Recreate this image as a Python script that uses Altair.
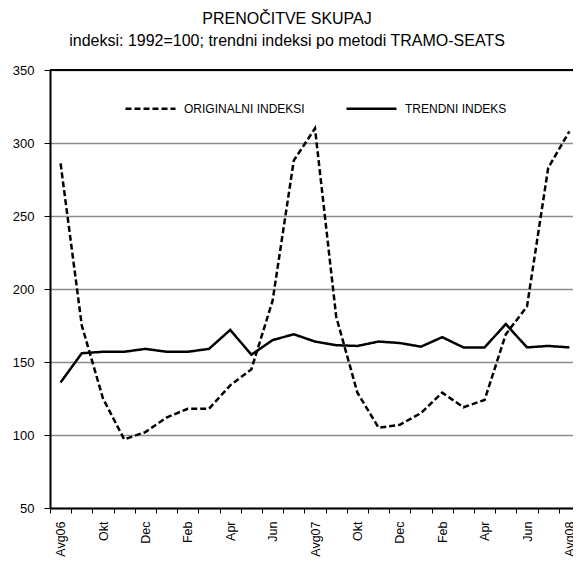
import json
import pandas as pd
import altair as alt

# ---- data ----
months = [
    "2006-08", "2006-09", "2006-10", "2006-11", "2006-12",
    "2007-01", "2007-02", "2007-03", "2007-04", "2007-05", "2007-06", "2007-07",
    "2007-08", "2007-09", "2007-10", "2007-11", "2007-12",
    "2008-01", "2008-02", "2008-03", "2008-04", "2008-05", "2008-06", "2008-07",
    "2008-08",
]
tick_labels = [
    "Avg06", "", "Okt", "", "Dec", "", "Feb", "", "Apr", "", "Jun", "",
    "Avg07", "", "Okt", "", "Dec", "", "Feb", "", "Apr", "", "Jun", "",
    "Avg08",
]
original = [286, 175, 125, 97, 102, 112, 118, 118, 134, 145, 192, 288,
            310, 181, 129, 105, 107, 115, 129, 119, 124, 169, 188, 283, 308]
trend = [136, 156, 157, 157, 159, 157, 157, 159, 172, 155, 165, 169,
         164, 161.5, 161, 164, 163, 160.5, 167, 160, 160, 176, 160, 161, 160]
series_names = ["ORIGINALNI INDEKSI", "TRENDNI INDEKS"]
title_lines = ["PRENOČITVE SKUPAJ",
               "indeksi: 1992=100; trendni indeksi po metodi TRAMO-SEATS"]
y_ticks = [50, 100, 150, 200, 250, 300, 350]
top_border = [350]

df = pd.DataFrame({
    "month": months * 2,
    "series": [series_names[0]] * len(months) + [series_names[1]] * len(months),
    "value": original + trend,
})
border_df = pd.DataFrame({"v": top_border})

FONT = "Liberation Sans"
label_map = json.dumps(dict(zip(months, tick_labels)), ensure_ascii=False)

y_scale = alt.Scale(domain=[50, 350], nice=False, zero=False)

lines = alt.Chart(df).mark_line(strokeWidth=2.5, color="black").encode(
    x=alt.X(
        "month:O",
        sort=months,
        title=None,
        bandPosition=0.5,
        scale=alt.Scale(type="band", paddingInner=0, paddingOuter=0),
        axis=alt.Axis(
            labelExpr=f"{label_map}[datum.value]",
            labelAngle=270,
            tickBand="extent",
            grid=False,
            domainColor="black",
            domainWidth=2,
            tickColor="black",
            tickSize=5,
            tickWidth=1,
            labelPadding=8,
            labelFont=FONT,
            labelFontSize=12.5,
            labelColor="black",
            labelOverlap=False,
        ),
    ),
    y=alt.Y(
        "value:Q",
        title=None,
        scale=y_scale,
        axis=alt.Axis(
            values=y_ticks,
            grid=True,
            gridColor="#8c8c8c",
            gridWidth=1.5,
            domainColor="black",
            domainWidth=2,
            tickColor="black",
            tickSize=6,
            tickWidth=1,
            labelPadding=10,
            labelFont=FONT,
            labelFontSize=13,
            labelColor="black",
        ),
    ),
    strokeDash=alt.StrokeDash(
        "series:N",
        sort=series_names,
        scale=alt.Scale(domain=series_names, range=[[6, 3], [1, 0]]),
        legend=alt.Legend(
            title=None,
            orient="none",
            legendX=74,
            legendY=12,
            direction="horizontal",
            symbolType="stroke",
            symbolSize=2500,
            symbolStrokeWidth=2.5,
            symbolStrokeColor="black",
            labelFont=FONT,
            labelFontSize=12,
            labelColor="black",
            labelOffset=7,
            columnPadding=36,
            padding=0,
        ),
    ),
)

border = alt.Chart(border_df).mark_rule(color="black", strokeWidth=2).encode(
    y=alt.Y("v:Q", scale=y_scale)
)

chart = (
    alt.layer(lines, border)
    .properties(
        width=530,
        height=438,
        padding={"left": 42, "top": 62, "right": -7, "bottom": 50},
        autosize=alt.AutoSizeParams(type="none"),
        title=alt.TitleParams(
            text=title_lines,
            font=FONT,
            fontSize=16,
            fontWeight="normal",
            color="black",
            anchor="middle",
            frame="group",
            dx=-28,
            offset=15,
            lineHeight=22,
        ),
    )
    .configure_view(stroke=None)
)

chart.save("out.html", embed_options={"renderer": "svg", "actions": False})
